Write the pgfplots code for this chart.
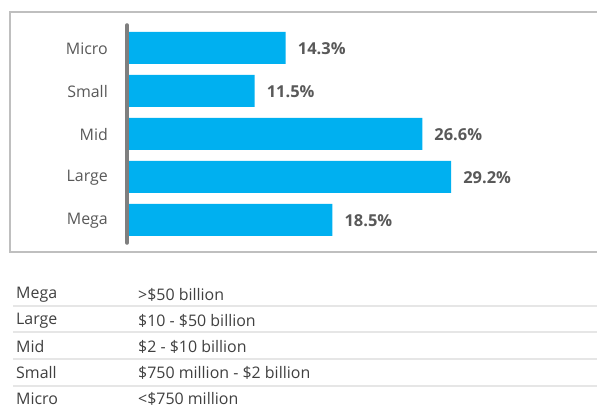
\documentclass[border=0pt]{standalone}
\usepackage{fontspec}
\setmainfont{Open Sans}
\usepackage{pgfplots}
\pgfplotsset{compat=1.18}
\definecolor{barblue}{HTML}{00B0F0}
\definecolor{txtgray}{HTML}{595959}
\definecolor{tabgray}{HTML}{404040}
\definecolor{axgray}{HTML}{7F7F7F}
\definecolor{boxgray}{HTML}{BFBFBF}
\definecolor{rulegray}{HTML}{E6E6E6}
\begin{document}
\begin{tikzpicture}[x=1bp,y=1bp]
\useasboundingbox (0,0) rectangle (597,408);
\fill[white] (0,0) rectangle (597,408);
\draw[boxgray, line width=1.5bp] (600,396) -- (10,396) -- (10,156) -- (600,156);
\begin{axis}[
  at={(127bp,165bp)}, anchor=south west, scale only axis,
  width=444bp, height=218bp,
  xmin=0, xmax=40, ymin=-0.535, ymax=4.535,
  xbar, bar width=32bp,
  hide x axis, axis y line*=left,
  axis line style={draw=none},
  ytick={0,1,2,3,4}, yticklabels={Mega,Large,Mid,Small,Micro},
  major tick length=0,
  yticklabel style={font=\fontsize{16}{19}\selectfont, text=txtgray, inner sep=0pt, xshift=-19bp, yshift=-1bp},
  point meta=x,
  nodes near coords={\pgfmathprintnumber[fixed,fixed zerofill,precision=1,assume math mode=true]{\pgfplotspointmeta}\%},
  every node near coord/.append style={font=\bfseries\fontsize{16.5}{19}\selectfont, text=txtgray, anchor=west, inner sep=0pt, xshift=12bp, yshift=-1bp},
  clip=false]
\addplot[fill=barblue, draw=none] coordinates {(18.5,0) (29.2,1) (26.6,2) (11.5,3) (14.3,4)};
\draw[axgray, line width=3.5bp, line cap=round] (axis cs:0,-0.535) -- (axis cs:0,4.535);
\end{axis}
\foreach \yy in {102,76,49,22} {\draw[rulegray, line width=2bp] (13,\yy) -- (600,\yy);}
\begin{scope}[every node/.style={anchor=west, inner sep=0pt, text=tabgray, font=\fontsize{16}{19}\selectfont}]
\node at (16,113) {Mega};   \node at (138,113) {>\$50 billion};
\node at (16,87) {Large};   \node at (138,87) {\$10 - \$50 billion};
\node at (16,61) {Mid};     \node at (138,61) {\$2 - \$10 billion};
\node at (16,35) {Small};   \node at (138,35) {\$750 million - \$2 billion};
\node at (16,9.5) {Micro};    \node at (138,9.5) {<\$750 million};
\end{scope}
\end{tikzpicture}
\end{document}
